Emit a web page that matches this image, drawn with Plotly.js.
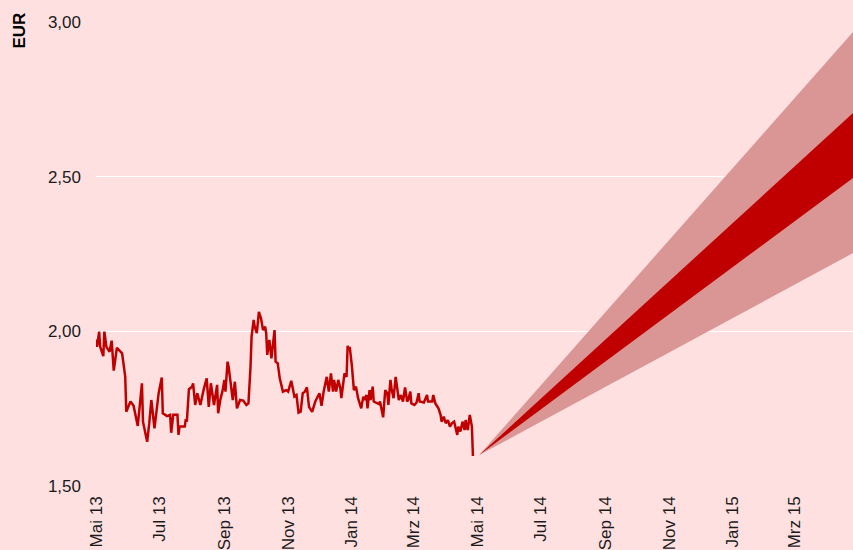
<!DOCTYPE html>
<html>
<head>
<meta charset="utf-8">
<script src="https://cdn.plot.ly/plotly-3.0.1.min.js"></script>
<style>html,body{margin:0;padding:0;background:#FFE0E0;}</style>
</head>
<body>
<div id="chart" style="width:853px;height:550px;"></div>
<script>
const histDates = [
"2013-05-01","2013-05-02","2013-05-04","2013-05-05","2013-05-08","2013-05-09","2013-05-11","2013-05-14","2013-05-16","2013-05-18",
"2013-05-21","2013-05-26","2013-05-29","2013-05-30","2013-06-03","2013-06-06","2013-06-10","2013-06-14","2013-06-15","2013-06-19",
"2013-06-21","2013-06-23","2013-06-26","2013-06-30","2013-07-03","2013-07-04","2013-07-08","2013-07-11","2013-07-12","2013-07-14",
"2013-07-18","2013-07-19","2013-07-20","2013-07-25","2013-07-26","2013-07-27","2013-07-29","2013-08-01","2013-08-02","2013-08-04",
"2013-08-06","2013-08-09","2013-08-12","2013-08-15","2013-08-17","2013-08-19","2013-08-22","2013-08-25","2013-08-26","2013-08-28",
"2013-08-30","2013-09-01","2013-09-02","2013-09-04","2013-09-05","2013-09-08","2013-09-09","2013-09-11","2013-09-13","2013-09-16",
"2013-09-19","2013-09-22","2013-09-24","2013-09-26","2013-09-27","2013-09-29","2013-09-30","2013-10-02","2013-10-04","2013-10-06",
"2013-10-08","2013-10-10","2013-10-11","2013-10-12","2013-10-14","2013-10-16","2013-10-17","2013-10-19","2013-10-20","2013-10-22",
"2013-10-24","2013-10-27","2013-10-30","2013-11-01","2013-11-04","2013-11-05","2013-11-07","2013-11-09","2013-11-11","2013-11-13",
"2013-11-15","2013-11-17","2013-11-19","2013-11-21","2013-11-24","2013-11-27","2013-12-01","2013-12-03","2013-12-05","2013-12-08",
"2013-12-10","2013-12-12","2013-12-14","2013-12-15","2013-12-17","2013-12-19","2013-12-21","2013-12-22","2013-12-25","2013-12-27",
"2013-12-28","2013-12-29","2013-12-30","2014-01-01","2014-01-03","2014-01-05","2014-01-07","2014-01-10","2014-01-12","2014-01-13",
"2014-01-15","2014-01-16","2014-01-18","2014-01-19","2014-01-21","2014-01-22","2014-01-25","2014-01-27","2014-01-28","2014-01-31",
"2014-02-02","2014-02-04","2014-02-05","2014-02-07","2014-02-08","2014-02-10","2014-02-12","2014-02-14","2014-02-15","2014-02-17",
"2014-02-19","2014-02-21","2014-02-23","2014-02-24","2014-02-26","2014-02-27","2014-03-02","2014-03-04","2014-03-06","2014-03-07",
"2014-03-11","2014-03-14","2014-03-15","2014-03-19","2014-03-20","2014-03-22","2014-03-25","2014-03-27","2014-03-28","2014-03-30",
"2014-04-01","2014-04-03","2014-04-05","2014-04-07","2014-04-09","2014-04-12","2014-04-13","2014-04-15","2014-04-17","2014-04-19",
"2014-04-20","2014-04-22","2014-04-24","2014-04-26","2014-04-27"
];
const histValues = [
1.974,1.950,1.999,1.950,1.920,1.999,1.950,1.934,1.970,1.873,
1.947,1.929,1.853,1.740,1.773,1.759,1.694,1.832,1.708,1.643,
1.703,1.778,1.686,1.800,1.851,1.735,1.726,1.730,1.672,1.730,
1.730,1.665,1.692,1.692,1.716,1.708,1.813,1.821,1.832,1.762,
1.800,1.762,1.810,1.848,1.756,1.832,1.762,1.827,1.735,1.778,
1.805,1.843,1.805,1.902,1.886,1.816,1.778,1.837,1.751,1.778,
1.776,1.762,1.767,1.886,1.983,2.037,2.015,1.994,2.063,2.042,
2.004,2.015,1.994,1.924,1.972,1.913,1.950,2.004,1.902,1.897,
1.848,1.805,1.810,1.805,1.840,1.821,1.789,1.794,1.737,1.740,
1.800,1.805,1.819,1.756,1.740,1.773,1.800,1.759,1.805,1.853,
1.805,1.864,1.805,1.843,1.805,1.843,1.816,1.784,1.864,1.853,
1.953,1.940,1.950,1.891,1.810,1.821,1.784,1.751,1.789,1.778,
1.794,1.751,1.810,1.778,1.821,1.773,1.767,1.765,1.773,1.722,
1.810,1.800,1.762,1.843,1.816,1.784,1.853,1.810,1.778,1.794,
1.773,1.819,1.773,1.778,1.805,1.767,1.762,1.770,1.800,1.773,
1.770,1.794,1.773,1.773,1.794,1.767,1.751,1.730,1.708,1.724,
1.703,1.713,1.692,1.703,1.708,1.665,1.692,1.676,1.708,1.681,
1.713,1.681,1.730,1.692,1.597
];

const fanDates = ["2014-05-03","2015-04-26"];
const outerLow  = [1.600, 2.253];
const outerHigh = [1.600, 2.968];
const innerLow  = [1.600, 2.496];
const innerHigh = [1.600, 2.706];

const yTicks = [1.5, 2.0, 2.5, 3.0];
const xTickDates = ["2013-05-01","2013-07-01","2013-09-01","2013-11-01","2014-01-01","2014-03-01",
                    "2014-05-01","2014-07-01","2014-09-01","2014-11-01","2015-01-01","2015-03-01"];
const xTickLabels = ["Mai 13","Jul 13","Sep 13","Nov 13","Jan 14","Mrz 14",
                     "Mai 14","Jul 14","Sep 14","Nov 14","Jan 15","Mrz 15"];

const lightRed = "#D99694", darkRed = "#C00000";
const traces = [
  {x: fanDates, y: outerLow, mode: "lines", line: {width: 0, color: lightRed}, hoverinfo: "skip", showlegend: false},
  {x: fanDates, y: outerHigh, mode: "lines", line: {width: 0, color: lightRed}, fill: "tonexty", fillcolor: lightRed, hoverinfo: "skip", showlegend: false},
  {x: fanDates, y: innerLow, mode: "lines", line: {width: 0, color: darkRed}, hoverinfo: "skip", showlegend: false},
  {x: fanDates, y: innerHigh, mode: "lines", line: {width: 0, color: darkRed}, fill: "tonexty", fillcolor: darkRed, hoverinfo: "skip", showlegend: false},
  {x: histDates, y: histValues, mode: "lines", line: {width: 2.5, color: darkRed}, showlegend: false}
];

const font = {family: "Liberation Sans, Arial, sans-serif", size: 17, color: "#1a1a1a"};
const layout = {
  width: 853, height: 550,
  margin: {l: 96, r: 0, t: 22, b: 64},
  paper_bgcolor: "#FFE0E0",
  plot_bgcolor: "#FFE0E0",
  separators: ",.",
  font: font,
  showlegend: false,
  xaxis: {
    type: "date",
    range: ["2013-05-01", "2015-04-26"],
    tickvals: xTickDates,
    ticktext: xTickLabels,
    tickangle: -90,
    showgrid: false,
    zeroline: false,
    showline: false,
    ticks: "",
    ticklabelstandoff: 6,
    tickfont: font
  },
  yaxis: {
    range: [1.5, 3.0],
    tickvals: yTicks,
    tickformat: ".2f",
    showgrid: true,
    gridcolor: "#FFFFFF",
    gridwidth: 1,
    zeroline: false,
    showline: false,
    ticks: "",
    ticklabelstandoff: 14,
    tickfont: font
  },
  annotations: [{
    text: "<b>EUR</b>",
    xref: "paper", yref: "paper",
    x: 0, y: 1,
    xanchor: "center", yanchor: "middle",
    xshift: -77, yshift: -8.5,
    textangle: -90,
    showarrow: false,
    font: {family: "Liberation Sans, Arial, sans-serif", size: 17, color: "#000000"}
  }]
};

Plotly.newPlot("chart", traces, layout, {displayModeBar: false, staticPlot: true});
</script>
</body>
</html>
